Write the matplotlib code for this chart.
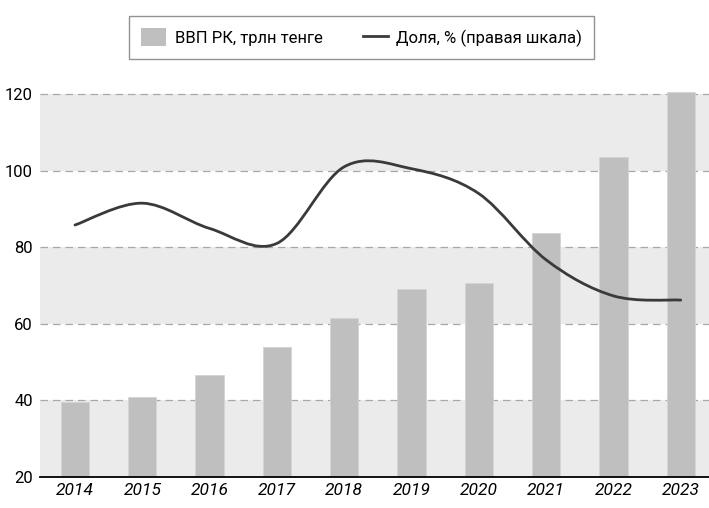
import matplotlib
matplotlib.use("Agg")
import matplotlib.pyplot as plt
from matplotlib.path import Path
from matplotlib.patches import PathPatch, Patch
from matplotlib.lines import Line2D

plt.rcParams['font.family'] = ['Roboto', 'DejaVu Sans']

# data
years = ['2014', '2015', '2016', '2017', '2018', '2019', '2020', '2021', '2022', '2023']
gdp = [39.5, 40.9, 46.6, 54.0, 61.6, 69.2, 70.7, 83.8, 103.6, 120.5]
share = [85.8, 91.5, 84.9, 81.0, 101.0, 100.5, 94.0, 76.7, 67.3, 66.2]
yticks = [20, 40, 60, 80, 100, 120]

bar_color = '#bfbfbf'
band_color = '#ebebeb'
line_color = '#3a3a3a'

fig = plt.figure(figsize=(7.09, 5.08), dpi=100)
ax = fig.add_axes([40 / 709, 31 / 508, 669 / 709, 386.8 / 508])

x = list(range(len(years)))

# alternating background bands
for lo in (20, 60, 100):
    ax.axhspan(lo, lo + 20, color=band_color, zorder=0, lw=0)

for t in yticks[1:]:
    ax.axhline(t, color='#a8a8a8', lw=0.9, ls=(0, (6, 4)), zorder=1)

ax.bar(x, gdp, width=0.42, color=bar_color, edgecolor='#d4d4d4', linewidth=0.6,
       zorder=2)

# smooth line (Catmull-Rom -> Bezier, like Excel smoothing)
pts = list(zip(x, share))
verts = [pts[0]]
codes = [Path.MOVETO]
n = len(pts)
for i in range(n - 1):
    p0 = pts[i - 1] if i > 0 else pts[i]
    p1 = pts[i]
    p2 = pts[i + 1]
    p3 = pts[i + 2] if i + 2 < n else pts[i + 1]
    c1 = (p1[0] + (p2[0] - p0[0]) / 6, p1[1] + (p2[1] - p0[1]) / 6)
    c2 = (p2[0] - (p3[0] - p1[0]) / 6, p2[1] - (p3[1] - p1[1]) / 6)
    verts += [c1, c2, p2]
    codes += [Path.CURVE4] * 3
ax.add_patch(PathPatch(Path(verts, codes), facecolor='none', edgecolor=line_color,
                       lw=2.0, zorder=3, capstyle='round'))

ax.set_xlim(-0.52, 9.42)
ax.set_ylim(20, 121)
ax.set_yticks(yticks)
ax.set_xticks(x)
ax.set_xticklabels(years, fontstyle='italic', fontsize=12.5)
ax.tick_params(axis='y', length=0, labelsize=12, pad=5)
ax.tick_params(axis='x', length=0, pad=4)
for s in ('top', 'right', 'left'):
    ax.spines[s].set_visible(False)
ax.spines['bottom'].set_color('black')
ax.spines['bottom'].set_linewidth(1.3)
ax.spines['bottom'].set_zorder(4)

handles = [Patch(facecolor=bar_color, edgecolor='none'),
           Line2D([0], [0], color=line_color, lw=2.0)]
labels = ['ВВП РК, трлн тенге', 'Доля, % (правая шкала)']
leg = fig.legend(handles, labels, ncol=2, loc='center',
                 bbox_to_anchor=(361.5 / 709, 1 - 37.5 / 508),
                 frameon=True, fancybox=False, fontsize=12, handlelength=1.5,
                 handleheight=1.2, columnspacing=2.4, borderpad=0.75, handletextpad=0.5)
leg.get_frame().set_edgecolor('#777777')
leg.get_frame().set_linewidth(1.0)

fig.savefig('out.png', dpi=100)
